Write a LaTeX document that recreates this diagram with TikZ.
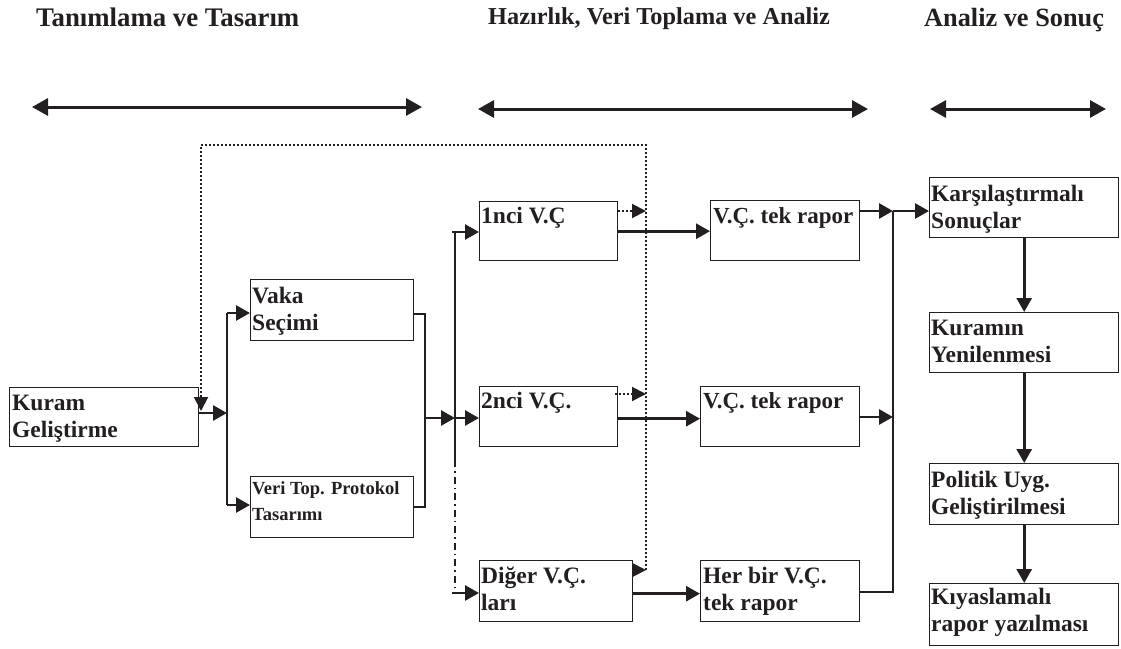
\documentclass[tikz,border=0pt]{standalone}
\usepackage{fontspec}
\setmainfont{Liberation Serif}
\usetikzlibrary{arrows.meta}
\definecolor{ink}{HTML}{231F20}
\begin{document}
\begin{tikzpicture}[x=1pt,y=-1pt,
  box/.style={draw=ink, line width=1.4pt, anchor=north west, inner sep=0pt},
  txt/.style={anchor=north west, inner sep=0pt, align=left, text=ink,
    font=\fontsize{23.5}{27.5}\selectfont\bfseries},
  smalltxt/.style={txt, font=\fontsize{18.5}{26}\selectfont\bfseries},
  hdr/.style={anchor=base west, inner sep=0pt, text=ink,
    font=\fontsize{26.8}{30}\selectfont\bfseries},
  conn/.style={draw=ink, line width=2.8pt, -{Triangle[length=14pt,width=15pt]}},
  span/.style={draw=ink, line width=3pt,
    {Triangle[length=16pt,width=17pt]}-{Triangle[length=16pt,width=17pt]}},
  bus/.style={draw=ink, line width=2pt},
  thinline/.style={draw=ink, line width=1.6pt},
  dashdot/.style={dash pattern=on 7pt off 4pt on 1.5pt off 4pt},
  fb/.style={draw=ink, line width=2pt, dash pattern=on 2pt off 2pt},
  fbtip/.style={-{Triangle[length=14pt,width=14pt]}}
]
\useasboundingbox (0,0) rectangle (1121,648);

% phase headings
\node[hdr] (hdrA) at (36,26) {Tanımlama ve Tasarım};
\node[hdr, font=\fontsize{24.3}{28}\selectfont\bfseries] (hdrB) at (488,24) {Hazırlık, Veri Toplama ve Analiz};
\node[hdr, font=\fontsize{26.3}{30}\selectfont\bfseries] (hdrC) at (924,26) {Analiz ve Sonuç};

% phase spans
\coordinate (sA1) at (32,107);  \coordinate (sA2) at (422,107);
\coordinate (sB1) at (478,109); \coordinate (sB2) at (868,109);
\coordinate (sC1) at (930,109); \coordinate (sC2) at (1106,109);
\draw[span] (sA1) -- (sA2);
\draw[span] (sB1) -- (sB2);
\draw[span] (sC1) -- (sC2);

% boxes
\node[box, minimum width=189pt, minimum height=59pt] (kuram) at (9,387) {};
\node[box, minimum width=163pt, minimum height=61pt] (vaka) at (250,279) {};
\node[box, minimum width=163pt, minimum height=61pt] (veri) at (250,476) {};
\node[box, minimum width=138pt, minimum height=59pt] (vc1) at (479,201) {};
\node[box, minimum width=138pt, minimum height=60pt] (vc2) at (479,386) {};
\node[box, minimum width=153pt, minimum height=61pt] (vc3) at (479,560) {};
\node[box, minimum width=149pt, minimum height=60pt] (rp1) at (710,200) {};
\node[box, minimum width=159pt, minimum height=60pt] (rp2) at (700,386) {};
\node[box, minimum width=159pt, minimum height=61pt] (rp3) at (700,560) {};
\node[box, minimum width=189pt, minimum height=60pt] (kar) at (929,177) {};
\node[box, minimum width=189pt, minimum height=60pt] (kyn) at (929,312) {};
\node[box, minimum width=189pt, minimum height=61pt] (pol) at (929,463) {};
\node[box, minimum width=189pt, minimum height=62pt] (kiy) at (929,583) {};

% box texts
\node[txt] (kuramT) at ([shift={(3,6)}]kuram.north west) {\rule{0pt}{17pt}Kuram\\Geliştirme};
\node[txt] (vakaT) at ([shift={(2,7)}]vaka.north west) {\rule{0pt}{17pt}Vaka\\Seçimi};
\node[smalltxt] (veriT) at ([shift={(2,5)}]veri.north west) {\rule{0pt}{13pt}Veri Top. Protokol\\Tasarımı};
\node[txt] (vc1T) at ([shift={(2,5)}]vc1.north west) {\rule{0pt}{17pt}1nci V.Ç};
\node[txt] (vc2T) at ([shift={(2,5)}]vc2.north west) {\rule{0pt}{17pt}2nci V.Ç.};
\node[txt] (vc3T) at ([shift={(2,6)}]vc3.north west) {\rule{0pt}{17pt}Diğer V.Ç.\\ları};
\node[txt, font=\fontsize{23}{27.5}\selectfont\bfseries] (rp1T) at ([shift={(3,6)}]rp1.north west) {\rule{0pt}{17pt}V.Ç. tek rapor};
\node[txt, font=\fontsize{23}{27.5}\selectfont\bfseries] (rp2T) at ([shift={(3,5)}]rp2.north west) {\rule{0pt}{17pt}V.Ç. tek rapor};
\node[txt] (rp3T) at ([shift={(3,6)}]rp3.north west) {\rule{0pt}{17pt}Her bir V.Ç.\\tek rapor};
\node[txt] (karT) at ([shift={(2,7)}]kar.north west) {\rule{0pt}{17pt}Karşılaştırmalı\\Sonuçlar};
\node[txt] (kynT) at ([shift={(2,6)}]kyn.north west) {\rule{0pt}{17pt}Kuramın\\Yenilenmesi};
\node[txt] (polT) at ([shift={(2,7)}]pol.north west) {\rule{0pt}{17pt}Politik Uyg.\\Geliştirilmesi};
\node[txt] (kiyT) at ([shift={(2,4)}]kiy.north west) {\rule{0pt}{17pt}Kıyaslamalı\\rapor yazılması};

% junction points
\coordinate (jK) at (227,413);  \coordinate (jKt) at (227,313); \coordinate (jKb) at (227,505);
\coordinate (brT) at (425,314); \coordinate (brB) at (425,507); \coordinate (brM) at (425,418);
\coordinate (jV) at (455,418);  \coordinate (jVt) at (455,232); \coordinate (jVs) at (455,460);
\coordinate (jVb) at (455,587);
\coordinate (in1) at (452,232); \coordinate (in3) at (452,593);
\coordinate (jR) at (893,211);  \coordinate (jR2) at (893,417); \coordinate (jRb) at (893,592);

% design stage
\draw[conn] (kuram.east |- jK) -- (jK);
\draw[bus] (jKt) -- (jKb);
\draw[conn] (jKt) -- (jKt -| vaka.west);
\draw[conn] (jKb) -- (jKb -| veri.west);
\draw[thinline] (vaka.east |- brT) -- (brT) -- (brB) -- (veri.east |- brB);
\draw[conn] (brM) -- (jV);

% case distribution
\draw[bus] (jVt) -- (jVs);
\draw[bus, dashdot] (jVs) -- (jVb);
\draw[conn] (in1) -- (in1 -| vc1.west);
\draw[conn] (jV) -- (jV -| vc2.west);
\draw[conn] (in3) -- (in3 -| vc3.west);

% case reports
\draw[conn] (vc1.east) -- (rp1.west |- vc1.east);
\draw[conn] ([yshift=-2pt]vc2.east) -- ([yshift=-2pt]rp2.west |- vc2.east);
\draw[conn] ([yshift=-2.5pt]vc3.east) -- ([yshift=-2.5pt]rp3.west |- vc3.east);

% merging into the comparison
\draw[conn] (rp1.east |- jR) -- (jR);
\draw[conn] (rp2.east |- jR2) -- (jR2);
\draw[thinline] (rp3.east |- jRb) -- (jRb) -- (jR);
\draw[conn] (jR) -- (jR -| kar.west);

% conclusion chain
\draw[conn] (kar.south) -- (kyn.north);
\draw[conn] (kyn.south) -- (pol.north);
\draw[conn] (pol.south) -- (kiy.north);

% feedback loop
\coordinate (fbA) at (646,570); \coordinate (fbB) at (646,145);
\coordinate (fbC) at (201,145); \coordinate (fbD) at (201,411);
\coordinate (d1) at (646,211);  \coordinate (d2) at (646,394);
\draw[fb, fbtip] (fbA) -- (fbB) -- (fbC) -- (fbD);
\draw[fb, fbtip] (vc1.east |- d1) -- (d1);
\draw[fb, fbtip] ([xshift=-3pt]vc2.east |- d2) -- (d2);
\draw[fb, fbtip] (vc3.east |- fbA) -- (fbA);
\end{tikzpicture}
\end{document}
